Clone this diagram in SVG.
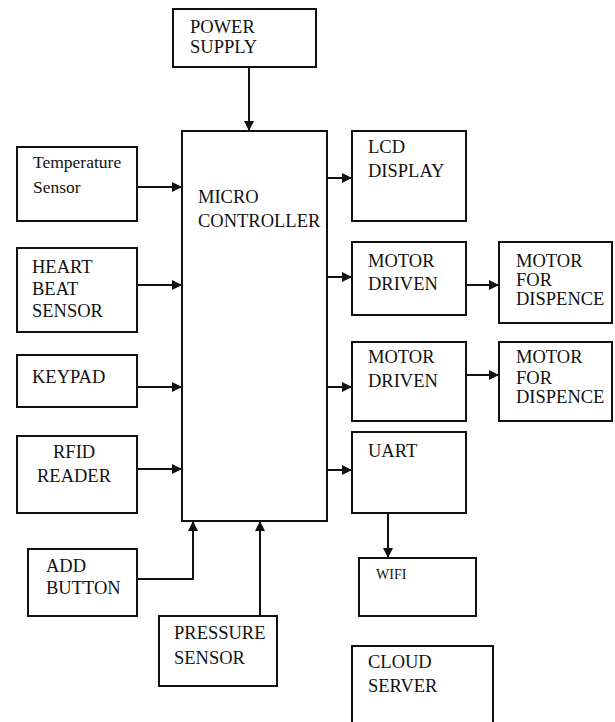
<svg xmlns="http://www.w3.org/2000/svg" width="615" height="722" viewBox="0 0 615 722">
<style>
.box{fill:#fff;stroke:#111;stroke-width:2}
.t{font-family:"Liberation Serif","Times New Roman",Times,serif;font-size:18.5px;fill:#111}
.s{font-size:17.5px}
.w{font-size:14px}
.c{fill:none;stroke:#111;stroke-width:2}
</style>
<defs>
<marker id="ah" markerUnits="userSpaceOnUse" markerWidth="11" markerHeight="11" refX="10" refY="5" orient="auto">
<path d="M0,0 L10,5 L0,10 z" fill="#111"/>
</marker>
</defs>
<rect width="615" height="722" fill="#fff"/>
<g id="power-supply"><rect class="box" x="173" y="9" width="143" height="58"/><text class="t" x="190" y="33">POWER</text><text class="t" x="190" y="53">SUPPLY</text></g>
<g id="micro-controller"><rect class="box" x="182" y="131" width="145" height="390"/><text class="t" x="198" y="203">MICRO</text><text class="t" x="198" y="227">CONTROLLER</text></g>
<g id="temperature-sensor"><rect class="box" x="17" y="147" width="120" height="74"/><text class="t s" x="33" y="168">Temperature</text><text class="t s" x="33" y="193">Sensor</text></g>
<g id="heart-beat-sensor"><rect class="box" x="17" y="248" width="120" height="84"/><text class="t" x="32" y="273">HEART</text><text class="t" x="32" y="295">BEAT</text><text class="t" x="32" y="317">SENSOR</text></g>
<g id="keypad"><rect class="box" x="17" y="355" width="120" height="52"/><text class="t" x="32" y="383">KEYPAD</text></g>
<g id="rfid-reader"><rect class="box" x="17" y="436" width="120" height="77"/><text class="t" x="53" y="458">RFID</text><text class="t" x="37" y="482">READER</text></g>
<g id="add-button"><rect class="box" x="28" y="549" width="109" height="67"/><text class="t" x="46" y="572">ADD</text><text class="t" x="46" y="594">BUTTON</text></g>
<g id="pressure-sensor"><rect class="box" x="159" y="616" width="118" height="70"/><text class="t" x="174" y="639">PRESSURE</text><text class="t" x="174" y="664">SENSOR</text></g>
<g id="lcd-display"><rect class="box" x="352" y="131" width="114" height="90"/><text class="t" x="368" y="153">LCD</text><text class="t" x="368" y="177">DISPLAY</text></g>
<g id="motor-driven-1"><rect class="box" x="352" y="242" width="114" height="73"/><text class="t" x="368" y="267">MOTOR</text><text class="t" x="368" y="290">DRIVEN</text></g>
<g id="motor-dispence-1"><rect class="box" x="499" y="242" width="113" height="81"/><text class="t" x="516" y="267">MOTOR</text><text class="t" x="516" y="286">FOR</text><text class="t" x="516" y="305">DISPENCE</text></g>
<g id="motor-driven-2"><rect class="box" x="352" y="342" width="114" height="79"/><text class="t" x="368" y="363">MOTOR</text><text class="t" x="368" y="387">DRIVEN</text></g>
<g id="motor-dispence-2"><rect class="box" x="499" y="342" width="113" height="79"/><text class="t" x="516" y="363">MOTOR</text><text class="t" x="516" y="384">FOR</text><text class="t" x="516" y="403">DISPENCE</text></g>
<g id="uart"><rect class="box" x="352" y="432" width="114" height="81"/><text class="t" x="368" y="457">UART</text></g>
<g id="wifi"><rect class="box" x="359" y="558" width="117" height="58"/><text class="t w" x="376" y="579">WIFI</text></g>
<g id="cloud-server"><rect class="box" x="352" y="646" width="141" height="90"/><text class="t" x="368" y="668">CLOUD</text><text class="t" x="368" y="692">SERVER</text></g>
<g id="connectors">
<path class="c" d="M249,67 V131" marker-end="url(#ah)"/>
<path class="c" d="M137,187 H182" marker-end="url(#ah)"/>
<path class="c" d="M137,285 H182" marker-end="url(#ah)"/>
<path class="c" d="M137,387 H182" marker-end="url(#ah)"/>
<path class="c" d="M137,469 H182" marker-end="url(#ah)"/>
<path class="c" d="M137,579 H193 V521" marker-end="url(#ah)"/>
<path class="c" d="M260,616 V521" marker-end="url(#ah)"/>
<path class="c" d="M327,178 H352" marker-end="url(#ah)"/>
<path class="c" d="M327,277 H352" marker-end="url(#ah)"/>
<path class="c" d="M327,387 H352" marker-end="url(#ah)"/>
<path class="c" d="M327,470 H352" marker-end="url(#ah)"/>
<path class="c" d="M466,285 H499" marker-end="url(#ah)"/>
<path class="c" d="M466,375 H499" marker-end="url(#ah)"/>
<path class="c" d="M388,513 V558" marker-end="url(#ah)"/>
</g>
</svg>
